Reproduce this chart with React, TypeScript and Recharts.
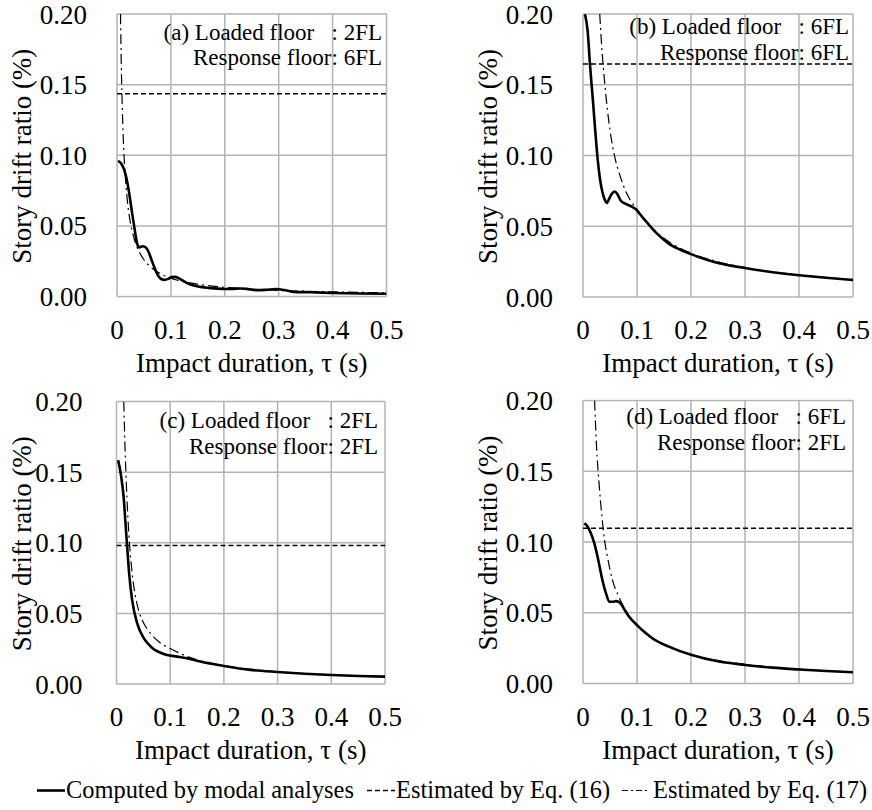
import React from 'react';
import { LineChart, Line, XAxis, YAxis, CartesianGrid } from 'recharts';

const FONT = '"Liberation Serif", "Times New Roman", Times, serif';

// Axis ticks shared by all four panels
const xTicks = [0, 0.1, 0.2, 0.3, 0.4, 0.5];
const yTicks = [0, 0.05, 0.1, 0.15, 0.2];

// Series names
const seriesNames = [
  'Computed by modal analyses',
  'Estimated by Eq. (16)',
  'Estimated by Eq. (17)',
];

// Panel captions
const captionsLoaded = ['(a) Loaded floor\u00a0\u00a0\u00a0: 2FL', '(b) Loaded floor\u00a0\u00a0\u00a0: 6FL', '(c) Loaded floor\u00a0\u00a0\u00a0: 2FL', '(d) Loaded floor\u00a0\u00a0\u00a0: 6FL'];
const captionsResponse = ['Response floor: 6FL', 'Response floor: 6FL', 'Response floor: 2FL', 'Response floor: 2FL'];

// (a) loaded 2FL, response 6FL — [tau (s), drift ratio (%)]
const modalA = [
  [0.002, 0.096], [0.008, 0.094], [0.014, 0.089], [0.019, 0.081], [0.0235, 0.071],
  [0.028, 0.059], [0.033, 0.047], [0.037, 0.038], [0.041, 0.0348], [0.048, 0.0356],
  [0.054, 0.0345], [0.058, 0.032], [0.064, 0.026], [0.07, 0.02], [0.076, 0.015],
  [0.082, 0.0124], [0.088, 0.0118], [0.095, 0.0125], [0.101, 0.0137], [0.108, 0.0139],
  [0.115, 0.0128], [0.1225, 0.0112], [0.132, 0.0092], [0.141, 0.0079], [0.155, 0.0068],
  [0.17, 0.0061], [0.2, 0.0053], [0.215, 0.0054], [0.228, 0.0057], [0.24, 0.0054],
  [0.258, 0.0045], [0.275, 0.0047], [0.296, 0.0053], [0.31, 0.0046], [0.327, 0.0033],
  [0.36, 0.003], [0.4, 0.0025], [0.45, 0.0021], [0.5, 0.0019],
];
const eq16A = 0.1435;
const eq17A = [
  [0.0065, 0.2], [0.008, 0.163], [0.01, 0.131], [0.013, 0.1], [0.016, 0.082],
  [0.02, 0.065], [0.025, 0.052], [0.03, 0.0435], [0.035, 0.037], [0.04, 0.0325],
  [0.05, 0.026], [0.06, 0.0217], [0.07, 0.0186], [0.08, 0.0163], [0.1, 0.013],
  [0.12, 0.0108], [0.15, 0.0087], [0.2, 0.0065], [0.25, 0.0052], [0.3, 0.0043],
  [0.4, 0.0033], [0.5, 0.0026],
];

// (b) loaded 6FL, response 6FL
const modalB = [
  [0.0037, 0.1998], [0.0086, 0.188], [0.013, 0.164], [0.018, 0.1405], [0.0228, 0.117],
  [0.027, 0.098], [0.0314, 0.0836], [0.036, 0.074], [0.0405, 0.0685], [0.0438, 0.0664],
  [0.048, 0.069], [0.053, 0.0728], [0.059, 0.0746], [0.064, 0.0725], [0.07, 0.068],
  [0.078, 0.066], [0.0857, 0.0647], [0.092, 0.0635], [0.098, 0.062], [0.104, 0.0592],
  [0.11, 0.0564], [0.12, 0.052], [0.129, 0.048], [0.14, 0.0437], [0.16, 0.0374],
  [0.18, 0.0334], [0.2, 0.0303], [0.225, 0.0268], [0.252, 0.0238], [0.3, 0.0205],
  [0.351, 0.0175], [0.4, 0.0154], [0.45, 0.0136], [0.5, 0.012],
];
const eq16B = 0.1647;
const eq17B = [
  [0.031, 0.2], [0.035, 0.175], [0.04, 0.152], [0.045, 0.133], [0.05, 0.118],
  [0.055, 0.106], [0.06, 0.097], [0.07, 0.084], [0.08, 0.074], [0.09, 0.067],
  [0.1, 0.062], [0.12, 0.052], [0.15, 0.0415], [0.2, 0.031], [0.25, 0.0249],
  [0.3, 0.0207], [0.4, 0.0155], [0.5, 0.0124],
];

// (c) loaded 2FL, response 2FL
const modalC = [
  [0.003, 0.1585], [0.0087, 0.147], [0.0136, 0.131], [0.0167, 0.114], [0.0198, 0.0976],
  [0.024, 0.0763], [0.029, 0.0597], [0.0384, 0.0431], [0.0508, 0.0325], [0.06, 0.028],
  [0.0694, 0.0246], [0.08, 0.0225], [0.094, 0.0206], [0.113, 0.0194], [0.131, 0.0182],
  [0.156, 0.0159], [0.2, 0.0128], [0.249, 0.01], [0.3, 0.0085], [0.35, 0.0073],
  [0.4, 0.0064], [0.45, 0.0057], [0.5, 0.0052],
];
const eq16C = 0.0981;
const eq17C = [
  [0.0135, 0.2], [0.016, 0.166], [0.0185, 0.14], [0.023, 0.106], [0.029, 0.079],
  [0.038, 0.057], [0.05, 0.0435], [0.06, 0.0375], [0.08, 0.0295], [0.1, 0.0252],
  [0.13, 0.0197], [0.16, 0.016], [0.2, 0.0129], [0.3, 0.0086], [0.4, 0.0065],
  [0.5, 0.0052],
];

// (d) loaded 6FL, response 2FL
const modalD = [
  [0.0025, 0.1132], [0.0086, 0.1108], [0.0148, 0.106], [0.021, 0.099], [0.027, 0.0896],
  [0.036, 0.073], [0.0426, 0.0637], [0.0488, 0.0578], [0.055, 0.0578], [0.061, 0.0582],
  [0.066, 0.0578], [0.0704, 0.0562], [0.078, 0.0515], [0.0858, 0.047], [0.1, 0.0413],
  [0.115, 0.036], [0.129, 0.0318], [0.16, 0.0259], [0.2, 0.0203], [0.252, 0.0155],
  [0.3, 0.0131], [0.351, 0.0112], [0.4, 0.0099], [0.45, 0.0088], [0.5, 0.008],
];
const eq16D = 0.1097;
const eq17D = [
  [0.0215, 0.2], [0.025, 0.168], [0.03, 0.14], [0.035, 0.118], [0.04, 0.101],
  [0.045, 0.09], [0.055, 0.0725], [0.065, 0.0625], [0.075, 0.0545], [0.09, 0.0455],
  [0.1, 0.041], [0.13, 0.0315], [0.16, 0.0257], [0.2, 0.0204], [0.3, 0.0135],
  [0.4, 0.0101], [0.5, 0.0081],
];

type Pt = { t: number; v: number };
const toPts = (rows: number[][]): Pt[] => rows.map(([t, v]) => ({ t, v }));
const flat = (v: number): Pt[] => [{ t: 0, v }, { t: 0.5, v }];

const CHART_W = 436;
const CHART_H = 400;
const Y_W = 60;
const X_H = 60;

const STYLE_MODAL = { stroke: '#000', strokeWidth: 2.6, dash: undefined as string | undefined };
const STYLE_EQ16 = { stroke: '#000', strokeWidth: 1.4, dash: '5 3' };
const STYLE_EQ17 = { stroke: '#000', strokeWidth: 1.2, dash: '10 4 2 4' };

// Page placement of every panel and its plotting area
const panels = [
  { left: 0, top: 0, pl: 117, pr: 386.5, pt: 14, pb: 296.5, tm: 30, modal: modalA, e16: eq16A, e17: eq17A, capRight: 382, capY: [39.5, 65] },
  { left: 436, top: 0, pl: 583, pr: 853, pt: 14, pb: 297, tm: 30, modal: modalB, e16: eq16B, e17: eq17B, capRight: 849, capY: [33.5, 60] },
  { left: 0, top: 375, pl: 116.5, pr: 385, pt: 401.5, pb: 684, tm: 34, modal: modalC, e16: eq16C, e17: eq17C, capRight: 378, capY: [428.3, 453.5] },
  { left: 436, top: 375, pl: 583, pr: 853, pt: 400.5, pb: 683.5, tm: 30, modal: modalD, e16: eq16D, e17: eq17D, capRight: 846, capY: [423.5, 450] },
];

const fmtX = (v: number) => (v === 0 ? '0' : v.toFixed(1));
const fmtY = (v: number) => v.toFixed(2);

function Panel({ p }: { p: (typeof panels)[number] }) {
  const margin = {
    left: p.pl - p.left - Y_W,
    right: p.left + CHART_W - p.pr,
    top: p.pt - p.top,
    bottom: p.top + CHART_H - p.pb - X_H,
  };
  const plotL = margin.left + Y_W;
  const plotR = CHART_W - margin.right;
  const plotT = margin.top;
  const plotB = CHART_H - margin.bottom - X_H;
  const xTitle = () => (
    <text x={(plotL + plotR) / 2} y={plotB + 75} textAnchor="middle" fontFamily={FONT} fontSize={27} fill="#000">
      Impact duration, τ (s)
    </text>
  );
  const yTitleX = plotL - 86;
  const yTitleY = (plotT + plotB) / 2 + 1;
  const yTitle = () => (
    <text
      x={yTitleX}
      y={yTitleY}
      transform={`rotate(-90 ${yTitleX} ${yTitleY})`}
      textAnchor="middle"
      fontFamily={FONT}
      fontSize={27}
      fill="#000"
    >
      Story drift ratio (%)
    </text>
  );
  return (
    <div style={{ position: 'absolute', left: p.left, top: p.top }}>
      <LineChart width={CHART_W} height={CHART_H} margin={margin} style={{ overflow: 'visible' }}>
        <CartesianGrid stroke="#b3b3b3" strokeWidth={1.5} />
        <XAxis
          type="number"
          dataKey="t"
          domain={[0, 0.5]}
          ticks={xTicks}
          interval={0}
          tickFormatter={fmtX}
          axisLine={false}
          tickLine={false}
          tickSize={0}
          tickMargin={23}
          height={X_H}
          tick={{ fontFamily: FONT, fontSize: 27, fill: '#000' }}
          label={xTitle}
          allowDataOverflow
        />
        <YAxis
          type="number"
          dataKey="v"
          domain={[0, 0.2]}
          ticks={yTicks}
          interval={0}
          tickFormatter={fmtY}
          axisLine={false}
          tickLine={false}
          tickSize={0}
          tickMargin={p.tm}
          width={Y_W}
          tick={{ fontFamily: FONT, fontSize: 27, fill: '#000' }}
          label={yTitle}
          allowDataOverflow
        />
        <Line
          data={flat(p.e16)}
          dataKey="v"
          name={seriesNames[1]}
          type="linear"
          stroke={STYLE_EQ16.stroke}
          strokeWidth={STYLE_EQ16.strokeWidth}
          strokeDasharray={STYLE_EQ16.dash}
          dot={false}
          activeDot={false}
          isAnimationActive={false}
        />
        <Line
          data={toPts(p.e17)}
          dataKey="v"
          name={seriesNames[2]}
          type="monotone"
          stroke={STYLE_EQ17.stroke}
          strokeWidth={STYLE_EQ17.strokeWidth}
          strokeDasharray={STYLE_EQ17.dash}
          dot={false}
          activeDot={false}
          isAnimationActive={false}
        />
        <Line
          data={toPts(p.modal)}
          dataKey="v"
          name={seriesNames[0]}
          type="monotone"
          stroke={STYLE_MODAL.stroke}
          strokeWidth={STYLE_MODAL.strokeWidth}
          dot={false}
          activeDot={false}
          isAnimationActive={false}
        />
      </LineChart>
    </div>
  );
}

// Legend layout along the bottom of the figure
const legendItems = [
  { name: seriesNames[0], style: STYLE_MODAL, x0: 37, x1: 65, tx: 66 },
  { name: seriesNames[1], style: STYLE_EQ16, x0: 367, x1: 395, tx: 396 },
  { name: seriesNames[2], style: { ...STYLE_EQ17, dash: '6 3 2 3' }, x0: 622, x1: 650, tx: 653 },
];

export default function App() {
  return (
    <div style={{ position: 'absolute', left: 0, top: 0, width: 872, height: 810, background: '#fff' }}>
      {panels.map((p, i) => (
        <Panel key={i} p={p} />
      ))}
      <svg
        width={872}
        height={810}
        style={{ position: 'absolute', left: 0, top: 0, pointerEvents: 'none' }}
      >
        {panels.map((p, i) => (
          <g key={i} fontFamily={FONT} fontSize={23} fill="#000" textAnchor="end">
            <text x={p.capRight} y={p.capY[0]}>{captionsLoaded[i]}</text>
            <text x={p.capRight} y={p.capY[1]}>{captionsResponse[i]}</text>
          </g>
        ))}
        {legendItems.map((it, i) => (
          <g key={i}>
            <line
              x1={it.x0}
              x2={it.x1}
              y1={790.5}
              y2={790.5}
              stroke={it.style.stroke}
              strokeWidth={it.style.strokeWidth}
              strokeDasharray={it.style.dash}
            />
            <text x={it.tx} y={798} fontFamily={FONT} fontSize={24.4} fill="#000">
              {it.name}
            </text>
          </g>
        ))}
      </svg>
    </div>
  );
}
